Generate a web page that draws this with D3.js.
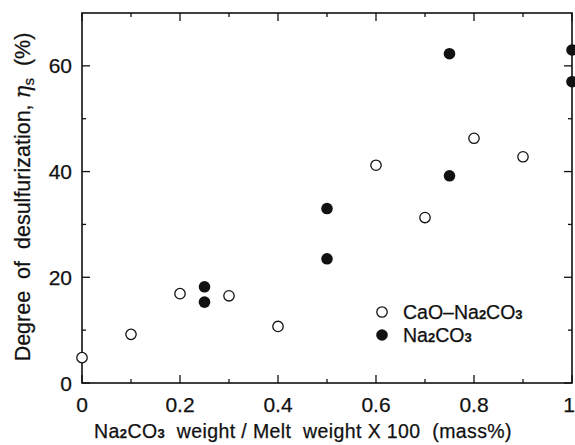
<!DOCTYPE html>
<html><head><meta charset="utf-8">
<script src="https://cdn.jsdelivr.net/npm/d3@7"></script>
<style>body{margin:0;background:#fff}svg{display:block}text{font-family:"Liberation Sans",Arial,sans-serif;fill:#111;stroke:#111;stroke-width:0.25}</style>
</head><body>
<svg id="c" width="575" height="445"></svg>
<script>
const caoX = [0, 0.1, 0.2, 0.3, 0.4, 0.6, 0.7, 0.8, 0.9];
const caoY = [4.8, 9.2, 16.9, 16.5, 10.7, 41.2, 31.3, 46.3, 42.8];
const naX = [0.25, 0.25, 0.5, 0.5, 0.75, 0.75, 1, 1];
const naY = [18.2, 15.3, 33.0, 23.5, 62.3, 39.2, 63.0, 57.0];
const xTicks = [0, 0.2, 0.4, 0.6, 0.8, 1];
const xMinor = [0.1, 0.3, 0.5, 0.7, 0.9];
const yTicks = [0, 20, 40, 60];
const yMinor = [10, 30, 50];

const svg = d3.select("#c");
const L = 82, R = 572, T = 13, B = 383;
const x = d3.scaleLinear().domain([0, 1]).range([L, R]);
const y = d3.scaleLinear().domain([0, 70]).range([B, T]);

svg.append("rect").attr("x", L).attr("y", T).attr("width", R - L).attr("height", B - T)
  .attr("fill", "none").attr("stroke", "#111").attr("stroke-width", 1.6);

const g = svg.append("g").attr("stroke", "#111").attr("stroke-width", 1.3);
xTicks.forEach(v => {
  g.append("line").attr("x1", x(v)).attr("x2", x(v)).attr("y1", B).attr("y2", B - 8);
  g.append("line").attr("x1", x(v)).attr("x2", x(v)).attr("y1", T).attr("y2", T + 8);
});
xMinor.forEach(v => {
  g.append("line").attr("x1", x(v)).attr("x2", x(v)).attr("y1", B).attr("y2", B - 4);
  g.append("line").attr("x1", x(v)).attr("x2", x(v)).attr("y1", T).attr("y2", T + 4);
});
yTicks.forEach(v => {
  g.append("line").attr("y1", y(v)).attr("y2", y(v)).attr("x1", L).attr("x2", L + 8);
  g.append("line").attr("y1", y(v)).attr("y2", y(v)).attr("x1", R).attr("x2", R - 8);
});
yMinor.forEach(v => {
  g.append("line").attr("y1", y(v)).attr("y2", y(v)).attr("x1", L).attr("x2", L + 4);
  g.append("line").attr("y1", y(v)).attr("y2", y(v)).attr("x1", R).attr("x2", R - 4);
});

svg.selectAll(".xl").data(xTicks).enter().append("text")
  .attr("x", d => d === 1 ? 575 : x(d)).attr("y", 412)
  .attr("text-anchor", d => d === 1 ? "end" : "middle")
  .attr("font-size", 21).text(d => String(d));
svg.selectAll(".yl").data(yTicks).enter().append("text")
  .attr("x", 72).attr("y", d => y(d) + 7.5).attr("text-anchor", "end")
  .attr("font-size", 21).text(d => d);

// x title
const xt = svg.append("text").attr("x", 303).attr("y", 438).attr("text-anchor", "middle")
  .attr("font-size", 19.5).attr("letter-spacing", 0.4);
xt.append("tspan").text("Na");
xt.append("tspan").attr("font-size", 13).attr("font-weight", "bold").text("2");
xt.append("tspan").text("CO");
xt.append("tspan").attr("font-size", 13).attr("font-weight", "bold").text("3");
xt.append("tspan").attr("xml:space", "preserve").text("  weight / Melt  weight X 100  (mass%)");

// y title
const yt = svg.append("text").attr("transform", "translate(30,197) rotate(-90)")
  .attr("text-anchor", "middle").attr("font-size", 21.5);
yt.append("tspan").attr("xml:space", "preserve").text("Degree  of  desulfurization, ");
yt.append("tspan").attr("font-style", "italic").attr("font-family", "'DejaVu Serif',serif").text("η");
yt.append("tspan").attr("font-size", 15).attr("dy", 4).text("s");
yt.append("tspan").attr("dy", -4).attr("xml:space", "preserve").text("  (%)");

const rr = 5.2;
svg.selectAll(".cao").data(caoX).enter().append("circle")
  .attr("cx", d => x(d)).attr("cy", (d, i) => y(caoY[i])).attr("r", rr)
  .attr("fill", "#fff").attr("stroke", "#111").attr("stroke-width", 1.3);
svg.selectAll(".na").data(naX).enter().append("circle")
  .attr("cx", d => x(d)).attr("cy", (d, i) => y(naY[i])).attr("r", rr + 0.6)
  .attr("fill", "#111");

// legend
svg.append("circle").attr("cx", 382).attr("cy", 312).attr("r", rr).attr("fill", "#fff").attr("stroke", "#111").attr("stroke-width", 1.3);
svg.append("circle").attr("cx", 382).attr("cy", 335).attr("r", rr + 0.6).attr("fill", "#111");
const l1 = svg.append("text").attr("x", 403).attr("y", 318.5).attr("font-size", 19.5);
l1.append("tspan").text("CaO–Na");
l1.append("tspan").attr("font-size", 13).attr("font-weight", "bold").text("2");
l1.append("tspan").text("CO");
l1.append("tspan").attr("font-size", 13).attr("font-weight", "bold").text("3");
const l2 = svg.append("text").attr("x", 403).attr("y", 341.5).attr("font-size", 19.5);
l2.append("tspan").text("Na");
l2.append("tspan").attr("font-size", 13).attr("font-weight", "bold").text("2");
l2.append("tspan").text("CO");
l2.append("tspan").attr("font-size", 13).attr("font-weight", "bold").text("3");
</script>
</body></html>
